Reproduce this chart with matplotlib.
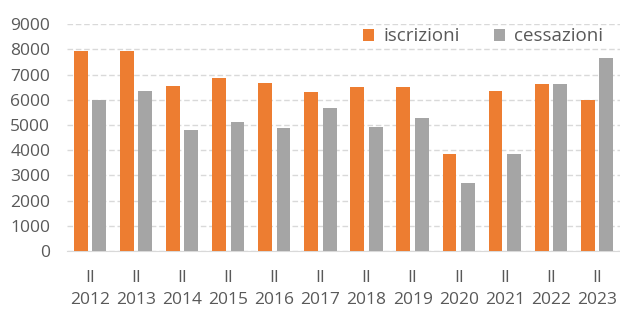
import matplotlib
matplotlib.use("Agg")
import matplotlib.pyplot as plt
import numpy as np

years = ["2012", "2013", "2014", "2015", "2016", "2017",
         "2018", "2019", "2020", "2021", "2022", "2023"]
iscrizioni = [7950, 7950, 6530, 6850, 6680, 6320, 6490, 6490, 3850, 6360, 6630, 5980]
cessazioni = [5980, 6360, 4780, 5120, 4870, 5660, 4900, 5260, 2710, 3850, 6630, 7650]
yticks = list(range(0, 9001, 1000))

plt.rcParams['font.family'] = ['Open Sans', 'DejaVu Sans']
text_col = "#595959"

fig = plt.figure(figsize=(6.2, 3.09), dpi=100)
ax = fig.add_axes([0.108, 0.188, 0.892, 0.734])

x = np.arange(len(years))
w = 0.3
ax.bar(x - 0.2, iscrizioni, w, color="#ED7D31", label="iscrizioni", zorder=3)
ax.bar(x + 0.2, cessazioni, w, color="#A5A5A5", label="cessazioni", zorder=3)

ax.set_xlim(-0.5, len(years) - 0.5)
ax.set_ylim(0, 9000)
ax.set_yticks(yticks)
ax.yaxis.grid(True, color="#D9D9D9", linestyle=(0, (4, 2)), linewidth=1, zorder=0)
ax.set_xticks(x)
ax.set_xticklabels(["II\n" + y for y in years], linespacing=1.5)
ax.tick_params(axis="both", length=0, labelsize=12.5, colors=text_col)
ax.tick_params(axis="x", pad=14)
ax.tick_params(axis="y", pad=12)

for side in ["top", "right", "left"]:
    ax.spines[side].set_visible(False)
ax.spines["bottom"].set_color("#D9D9D9")

leg = ax.legend(loc="upper right", bbox_to_anchor=(1.0, 1.06), ncol=2, frameon=False,
                fontsize=13.5, handlelength=0.6, handleheight=0.6,
                handletextpad=0.5, columnspacing=1.8)
for t in leg.get_texts():
    t.set_color(text_col)

fig.savefig("out.png", dpi=100)
